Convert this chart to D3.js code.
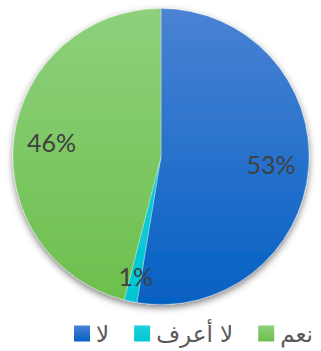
<!DOCTYPE html>
<html>
<head>
<meta charset="utf-8">
<style>
  body { margin: 0; background: #fff; }
  svg { display: block; }
</style>
</head>
<body>
<svg id="chart" width="321" height="351"></svg>
<script src="https://cdn.jsdelivr.net/npm/d3@7"></script>
<script>
// answers, in drawing order from 12 o'clock clockwise
const categories = ["لا", "لا أعرف", "نعم"]
const values = [52.6, 1.4, 46.0]
const colorsTop = ["#4a82d4", "#22cfdd", "#8ed07c"]
const colorsBottom = ["#0561c3", "#00c6d3", "#6cbf4c"]

let svg = d3.select("#chart")
let cx = 161, cy = 156.5, radius = 148

let defs = svg.append("defs")
categories.forEach((c, i) => {
  let g = defs.append("linearGradient")
    .attr("id", "grad" + i)
    .attr("gradientUnits", "userSpaceOnUse")
    .attr("x1", 0).attr("y1", -radius)
    .attr("x2", 0).attr("y2", radius)
  g.append("stop").attr("offset", "0%").attr("stop-color", colorsTop[i])
  g.append("stop").attr("offset", "100%").attr("stop-color", colorsBottom[i])

  let lg = defs.append("linearGradient").attr("id", "leg" + i)
    .attr("x1", 0).attr("y1", 0).attr("x2", 0).attr("y2", 1)
  lg.append("stop").attr("offset", "0%").attr("stop-color", colorsTop[i])
  lg.append("stop").attr("offset", "100%").attr("stop-color", colorsBottom[i])
})

let shadow = defs.append("filter").attr("id", "shadow")
  .attr("x", "-20%").attr("y", "-20%").attr("width", "140%").attr("height", "140%")
shadow.append("feDropShadow")
  .attr("dx", 0).attr("dy", 3).attr("stdDeviation", 3.5)
  .attr("flood-color", "#000").attr("flood-opacity", 0.5)

let pie = d3.pie().sort(null).value(d => d)
let arcs = pie(values)
let total = d3.sum(values)

let arc = d3.arc().innerRadius(0).outerRadius(radius)

let body = svg.append("g").attr("transform", `translate(${cx},${cy})`)

body.append("g").attr("filter", "url(#shadow)")
  .selectAll("path").data(arcs)
  .enter().append("path")
  .attr("d", arc)
  .attr("fill", (d, i) => `url(#grad${i})`)
  .attr("stroke", "#ffffff").attr("stroke-width", 0.6).attr("stroke-opacity", 0.5)

let fmt = d3.format(".0%")
body.selectAll("text.pct").data(arcs)
  .enter().append("text")
  .attr("class", "pct")
  .attr("transform", d => {
    let r = d.value / total < 0.05 ? radius * 0.83 : radius * 0.745
    let a = (d.startAngle + d.endAngle) / 2
    return `translate(${Math.sin(a) * r},${-Math.cos(a) * r})`
  })
  .attr("text-anchor", "middle")
  .attr("dy", "0.36em")
  .attr("font-family", "Lato, 'Open Sans', sans-serif")
  .attr("font-size", 25)
  .attr("fill", "#404040")
  .text(d => fmt(d.value / total))

// legend
let legend = svg.append("g").attr("transform", "translate(74,334)")
let x = 0
categories.forEach((c, i) => {
  let item = legend.append("g").attr("transform", `translate(${x},0)`)
  item.append("rect")
    .attr("x", 0).attr("y", -8.5)
    .attr("width", 16).attr("height", 16)
    .attr("fill", `url(#leg${i})`)
  let t = item.append("text")
    .attr("x", 22).attr("y", 0).attr("dy", "0.33em")
    .attr("font-family", "'DejaVu Sans', sans-serif")
    .attr("font-size", 23)
    .attr("fill", "#595959")
    .text(c)
  x += 22 + t.node().getComputedTextLength() + 25
})
</script>
</body>
</html>
